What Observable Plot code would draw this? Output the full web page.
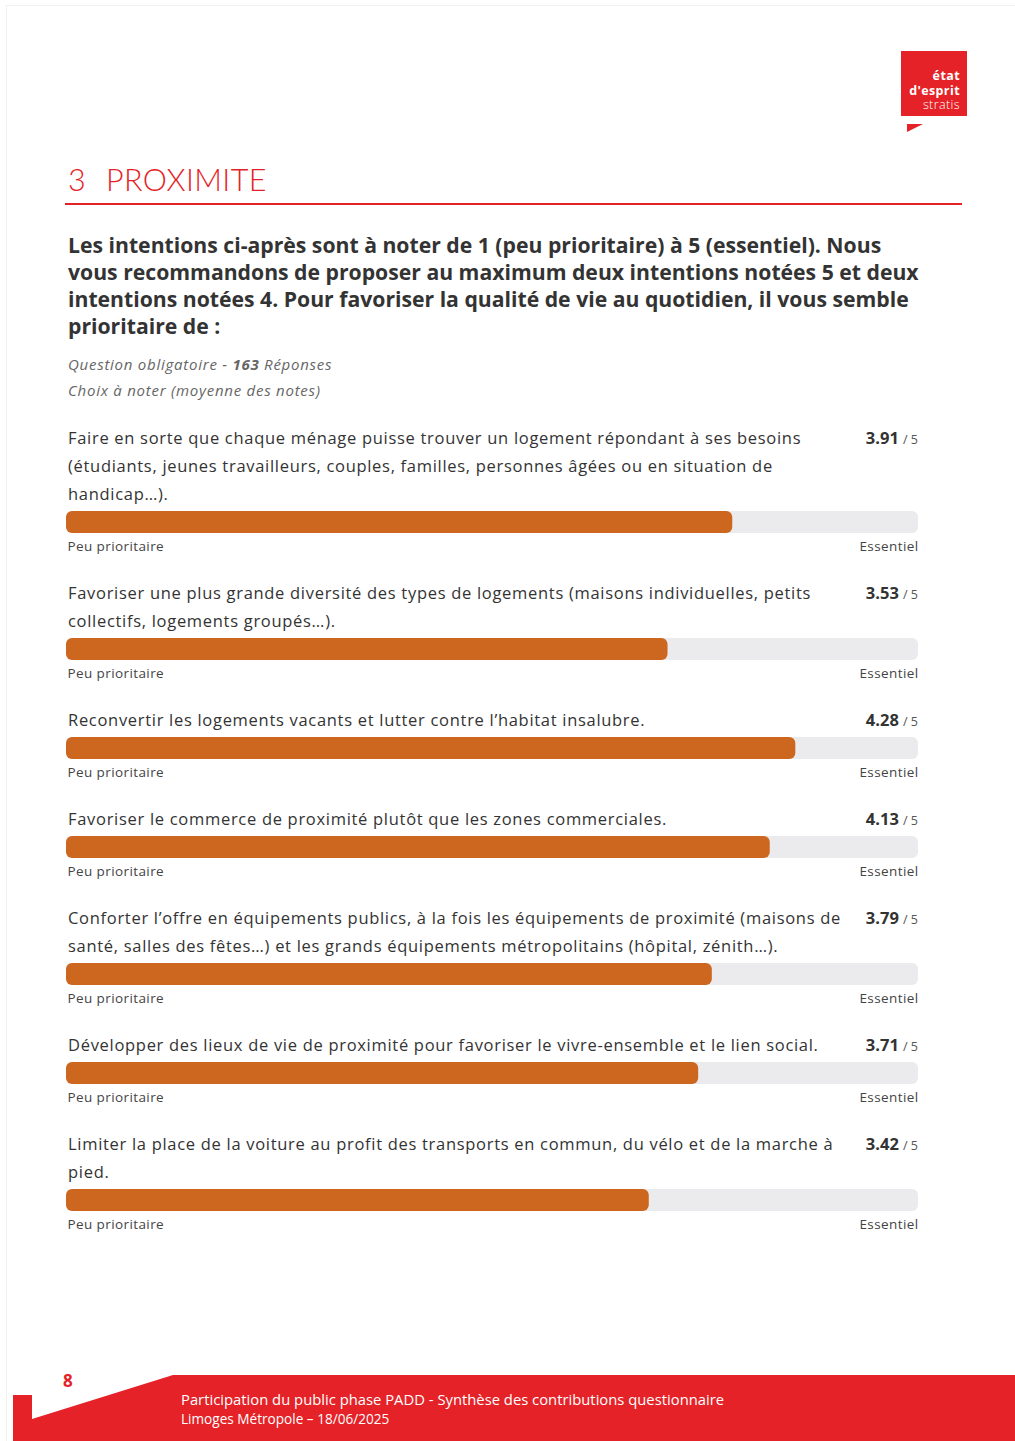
<!DOCTYPE html>
<html lang="fr">
<head>
<meta charset="utf-8">
<script src="https://cdn.jsdelivr.net/npm/d3@7"></script>
<script src="https://cdn.jsdelivr.net/npm/@observablehq/plot@0.6"></script>
<style>
  html, body { margin: 0; padding: 0; background: #fff; }
  body { width: 1015px; height: 1441px; position: relative; overflow: hidden; font-family: "Open Sans", Lato, sans-serif; color: #333; }
  .frame { position: absolute; left: 6px; top: 5px; right: -2px; bottom: -2px; border-left: 1px solid #f1f1f1; border-top: 1px solid #f1f1f1; }
  .logo { position: absolute; left: 901px; top: 51px; width: 66px; height: 65px; background: #e52227; }
  .logo div { position: absolute; right: 7px; color: #fff; font-size: 12.5px; line-height: 13px; text-align: right; letter-spacing: 0.4px; }
  .flag { position: absolute; left: 907px; top: 123px; }
  .section { position: absolute; left: 68px; top: 161px; font-size: 30.5px; font-weight: 300; color: #e52227; font-family: Lato, sans-serif; letter-spacing: 0.4px; }
  .section .num { display: inline-block; width: 38px; }
  .rule { position: absolute; left: 65px; top: 203px; width: 897px; height: 2px; background: #e52227; }
  .question { position: absolute; left: 68px; top: 231px; font-size: 21.2px; font-weight: 700; line-height: 27px; color: #333; white-space: nowrap; }
  .meta { position: absolute; left: 68px; font-size: 15px; font-style: italic; color: #666; white-space: nowrap; letter-spacing: 0.75px; }
  .items { position: absolute; left: 66px; top: 424px; width: 852px; }
  .item { margin-bottom: 22.5px; }
  .row { display: flex; justify-content: space-between; align-items: flex-start; }
  .label { font-size: 16.5px; line-height: 28px; padding-left: 2px; color: #333; white-space: nowrap; letter-spacing: 0.7px; }
  .score { line-height: 28px; height: 28px; white-space: nowrap; }
  .score b { font-size: 16.5px; color: #333; }
  .score span { font-size: 12.5px; color: #555; }
  .bar { margin-top: 2.5px; display: block; }
  .pagenum { position: absolute; left: 63px; top: 1369px; color: #e52227; font-size: 17px; font-weight: 700; }
  .footer-svg { position: absolute; left: 0; top: 0; }
  .ftxt { position: absolute; left: 181px; color: #fff; white-space: nowrap; }
</style>
</head>
<body>
<div class="frame"></div>
<div class="logo">
  <div style="top:18px;font-weight:700">état</div>
  <div style="top:32.5px;font-weight:700">d'esprit</div>
  <div style="top:47px;font-weight:300">stratis</div>
</div>
<svg class="flag" width="18" height="10"><polygon points="0,1 16,1 0,9" fill="#e52227"/></svg>
<div class="section"><span class="num">3</span>PROXIMITE</div>
<div class="rule"></div>
<div class="question" id="question"></div>
<div class="meta" style="top:354px">Question obligatoire - <b>163</b> Réponses</div>
<div class="meta" style="top:380px">Choix à noter (moyenne des notes)</div>
<div class="items" id="items"></div>

<svg class="footer-svg" width="1015" height="1441">
  <polygon points="13,1395 32,1395 32,1419 173,1375 1015,1375 1015,1441 13,1441" fill="#e52227"/>
</svg>
<div class="pagenum">8</div>
<div class="ftxt" style="top:1389px;font-size:14.8px">Participation du public phase PADD - Synthèse des contributions questionnaire</div>
<div class="ftxt" style="top:1409px;font-size:13.6px">Limoges Métropole – 18/06/2025</div>

<script>
// ---------- data ----------
const questionLines = [
  "Les intentions ci-après sont à noter de 1 (peu prioritaire) à 5 (essentiel). Nous",
  "vous recommandons de proposer au maximum deux intentions notées 5 et deux",
  "intentions notées 4. Pour favoriser la qualité de vie au quotidien, il vous semble",
  "prioritaire de :"
];
const itemLabels = [
  ["Faire en sorte que chaque ménage puisse trouver un logement répondant à ses besoins",
   "(étudiants, jeunes travailleurs, couples, familles, personnes âgées ou en situation de",
   "handicap…)."],
  ["Favoriser une plus grande diversité des types de logements (maisons individuelles, petits",
   "collectifs, logements groupés…)."],
  ["Reconvertir les logements vacants et lutter contre l’habitat insalubre."],
  ["Favoriser le commerce de proximité plutôt que les zones commerciales."],
  ["Conforter l’offre en équipements publics, à la fois les équipements de proximité (maisons de",
   "santé, salles des fêtes…) et les grands équipements métropolitains (hôpital, zénith…)."],
  ["Développer des lieux de vie de proximité pour favoriser le vivre-ensemble et le lien social."],
  ["Limiter la place de la voiture au profit des transports en commun, du vélo et de la marche à",
   "pied."]
];
const scores = [3.91, 3.53, 4.28, 4.13, 3.79, 3.71, 3.42];
const scaleMin = 0;
const scaleMax = 5;
const endLabels = ["Peu prioritaire", "Essentiel"];

// ---------- render ----------
document.getElementById("question").innerHTML = questionLines.join("<br>");

const container = document.getElementById("items");
itemLabels.forEach((lines, i) => {
  const item = document.createElement("div");
  item.className = "item";
  const row = document.createElement("div");
  row.className = "row";
  const lab = document.createElement("div");
  lab.className = "label";
  lab.innerHTML = lines.join("<br>");
  const sc = document.createElement("div");
  sc.className = "score";
  sc.innerHTML = `<b>${scores[i].toFixed(2)}</b> <span>/ ${scaleMax}</span>`;
  row.appendChild(lab);
  row.appendChild(sc);
  item.appendChild(row);

  const chart = Plot.plot({
    width: 852,
    height: 46,
    marginTop: 0,
    marginBottom: 24,
    marginLeft: 0,
    marginRight: 0,
    x: {domain: [scaleMin, scaleMax], axis: null},
    style: {fontFamily: "'Open Sans', sans-serif", fontSize: "13.5px", color: "#444", letterSpacing: "0.4px", overflow: "visible"},
    marks: [
      Plot.barX([{a: scaleMin, b: scaleMax}], {x1: "a", x2: "b", fill: "#ebebed", rx: 6}),
      Plot.barX([{a: scaleMin, b: scores[i]}], {x1: "a", x2: "b", fill: "#cd661e", rx: 6}),
      Plot.text([{v: scaleMin, t: endLabels[0]}], {x: "v", text: "t", frameAnchor: "bottom", lineAnchor: "middle", textAnchor: "start", dy: 13, dx: 1, fill: "#444", fontSize: 13.5}),
      Plot.text([{v: scaleMax, t: endLabels[1]}], {x: "v", text: "t", frameAnchor: "bottom", lineAnchor: "middle", textAnchor: "end", dy: 13, fill: "#444", fontSize: 13.5})
    ]
  });
  chart.classList.add("bar");
  item.appendChild(chart);
  container.appendChild(item);
});
</script>
</body>
</html>
